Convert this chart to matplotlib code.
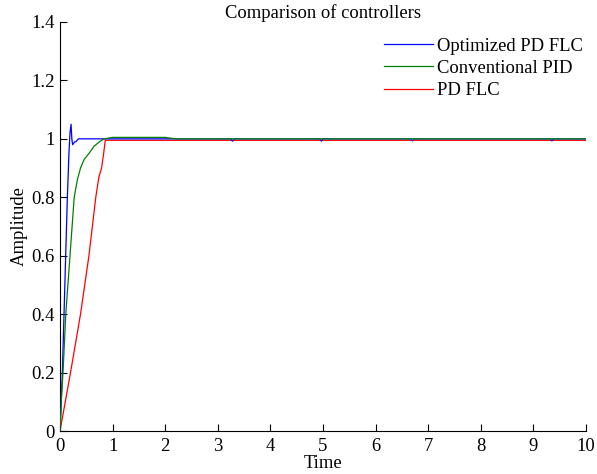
import matplotlib
matplotlib.use("Agg")
import matplotlib.pyplot as plt

# Optimized PD FLC
t_opt = [0.0, 0.045, 0.10, 0.14, 0.17, 0.19, 0.21, 0.225, 0.24, 0.26, 0.28, 0.30, 0.35, 0.5,
         3.25, 3.28, 3.31, 4.94, 4.97, 5.0, 6.67, 6.70, 6.73, 9.32, 9.35, 9.38, 10.0]
y_opt = [0.0, 0.2, 0.55, 0.8, 0.95, 1.02, 1.05, 1.0, 0.98, 0.985, 0.99, 0.99, 1.0, 1.0,
         1.0, 0.992, 1.0, 1.0, 0.992, 1.0, 1.0, 0.993, 1.0, 1.0, 0.993, 1.0, 1.0]

# Conventional PID
t_pid = [0.0, 0.03, 0.057, 0.11, 0.19, 0.27, 0.33, 0.39, 0.46, 0.55, 0.65, 0.75, 0.84,
         1.0, 2.0, 2.2, 10.0]
y_pid = [0.0, 0.12, 0.2, 0.4, 0.6, 0.8, 0.86, 0.9, 0.93, 0.95, 0.975, 0.99, 1.0,
         1.005, 1.005, 1.0, 1.0]

# PD FLC
t_pd = [0.0, 0.2, 0.39, 0.55, 0.68, 0.74, 0.79, 0.83, 0.86, 10.0]
y_pd = [0.0, 0.2, 0.4, 0.6, 0.8, 0.87, 0.9, 0.95, 0.995, 0.995]

x_ticks = list(range(0, 11))
y_ticks = [0, 0.2, 0.4, 0.6, 0.8, 1, 1.2, 1.4]
y_tick_labels = ["0", "0.2", "0.4", "0.6", "0.8", "1", "1.2", "1.4"]

plt.rcParams['font.family'] = ['Liberation Serif', 'DejaVu Serif']
plt.rcParams['font.size'] = 13.4

fig = plt.figure(figsize=(5.97, 4.74), dpi=100)
ax = fig.add_axes([0.1005, 0.0907, 0.8811, 0.8629])

ax.plot(t_opt, y_opt, color='#0000ff', lw=0.9, label='Optimized PD FLC', zorder=3)
ax.plot(t_pid, y_pid, color='#008000', lw=0.9, label='Conventional PID', zorder=4)
ax.plot(t_pd, y_pd, color='#ff0000', lw=0.9, label='PD FLC', zorder=2)

ax.set_xlim(0, 10)
ax.set_ylim(0, 1.4)
ax.set_xticks(x_ticks)
ax.set_yticks(y_ticks)
ax.set_yticklabels(y_tick_labels)
ax.tick_params(direction='in', length=5, width=0.8)
ax.tick_params(axis='x', pad=5)
ax.tick_params(axis='y', pad=4)
ax.spines['top'].set_visible(False)
ax.spines['right'].set_visible(False)

ax.set_title('Comparison of controllers', fontsize=13.4, pad=-2)
ax.set_xlabel('Time', labelpad=0)
ax.set_ylabel('Amplitude', labelpad=2)

leg = ax.legend(loc='upper right', bbox_to_anchor=(0.994, 0.962), frameon=False,
                handlelength=2.63, handletextpad=0.2, labelspacing=0.29,
                borderaxespad=0, borderpad=0, fontsize=13.4)

fig.savefig('out.png', dpi=100)
